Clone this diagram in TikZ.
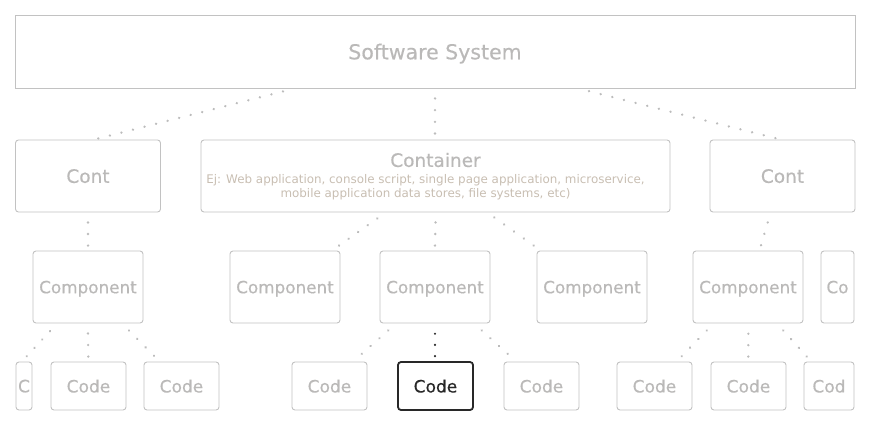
\documentclass[tikz,border=0pt]{standalone}
\usepackage{fontspec}
\setmainfont{DejaVu Sans}
\newfontfamily\labelfont{DejaVu Sans}[FakeBold=0.4]
\usetikzlibrary{calc,decorations.markings}
\definecolor{boxline}{RGB}{194,194,194}
\definecolor{boxtext}{RGB}{186,185,184}
\definecolor{subtext}{RGB}{200,190,178}
\definecolor{dotgray}{RGB}{188,188,188}
\definecolor{focus}{RGB}{40,40,40}
\tikzset{
  box/.style={draw=boxline, line width=0.9pt, rounded corners=3pt, inner sep=0pt,
    text depth=0pt, text=boxtext, font=\labelfont\fontsize{16.8}{18}\selectfont},
  topbox/.style={box, rounded corners=0pt, font=\labelfont\fontsize{20.5}{24}\selectfont},
  contbox/.style={box, minimum width=145pt, minimum height=72pt, font=\labelfont\fontsize{18.5}{22}\selectfont},
  compbox/.style={box, minimum width=110pt, minimum height=72pt},
  codebox/.style={box, minimum width=75pt, minimum height=48pt, font=\labelfont\fontsize{17}{20}\selectfont},
  focusbox/.style={codebox, draw=focus, line width=1.8pt, text=focus},
  % a row of round dots, evenly spread from the first point to the last
  dotrow/.style={decoration={markings,
      mark=between positions 0 and 1 step #1 with {\fill[dotgray] (0,0) circle (1.3pt);}}, decorate},
  focusrow/.style={decoration={markings,
      mark=between positions 0 and 1 step #1 with {\fill[focus] (0,0) circle (1.2pt);}}, decorate},
}
\begin{document}
\begin{tikzpicture}[x=1pt, y=-1pt]
  \useasboundingbox (0,0) rectangle (870,426);

  % top level
  \node[topbox, minimum width=840pt, minimum height=73pt] (sys) at (435,51.5) {Software System};

  % containers
  \node[contbox] (contL) at (88,176) {Cont};
  \node[contbox, minimum width=469pt] (cont) at (435.5,176) {};
  \node[text=boxtext, font=\labelfont\fontsize{18.5}{22}\selectfont, inner sep=0pt] (contTitle) at (435.5,160) {Container};
  \node[text=subtext, font=\fontsize{11.9}{14}\selectfont, align=center, inner sep=0pt] (contSub) at (425.5,187.5)
    {Ej: Web application, console script, single page application, microservice,\\mobile application data stores, file systems, etc)};
  \node[contbox] (contR) at (782.5,176) {Cont};

  % components
  \node[compbox] (compA) at (88,287) {Component};
  \node[compbox] (compB) at (285,287) {Component};
  \node[compbox] (compC) at (435,287) {Component};
  \node[compbox] (compD) at (592,287) {Component};
  \node[compbox] (compE) at (748,287) {Component};
  \node[compbox, minimum width=33pt] (compF) at (837.5,287) {Co};

  % code
  \node[codebox, minimum width=16pt] (codeA) at (24,386) {C};
  \node[codebox] (codeB) at (88.5,386) {Code};
  \node[codebox] (codeC) at (181.5,386) {Code};
  \node[codebox] (codeD) at (329.5,386) {Code};
  \node[focusbox] (codeE) at (435.5,386) {Code};
  \node[codebox] (codeF) at (541.5,386) {Code};
  \node[codebox] (codeG) at (654.5,386) {Code};
  \node[codebox] (codeH) at (748.5,386) {Code};
  \node[codebox, minimum width=50pt] (codeI) at (829,386) {Cod};

  % system to containers
  \path[dotrow=0.0624] ($(sys.south)+(-152,3)$) -- ($(contL.north)+(10,-1)$);
  \path[dotrow=0.333] ($(sys.south)+(0,10)$) -- ($(cont.north)+(-0.5,-6)$);
  \path[dotrow=0.0624] ($(sys.south)+(154,2.7)$) -- ($(contR.north)+(-6.8,-1.3)$);

  % containers to components
  \path[dotrow=0.4999] ($(contL.south)+(0,10)$) -- ($(compA.north)+(0,-5)$);
  \path[dotrow=0.2499] ($(cont.south)+(-58.2,6)$) -- ($(compB.north)+(54,-5)$);
  \path[dotrow=0.4999] ($(cont.south)+(0,10)$) -- ($(compC.north)+(0,-5)$);
  \path[dotrow=0.2499] ($(cont.south)+(58.8,5)$) -- ($(compD.north)+(-58.3,-5)$);
  \path[dotrow=0.4999] ($(contR.south)+(-14.8,10)$) -- ($(compE.north)+(13,-5.3)$);

  % components to code
  \path[dotrow=0.333] ($(compA.south)+(-38,7.7)$) -- ($(codeA.north)+(2.7,-5.3)$);
  \path[dotrow=0.4999] ($(compA.south)+(0,10)$) -- ($(codeB.north)+(-0.2,-5)$);
  \path[dotrow=0.333] ($(compA.south)+(41,7)$) -- ($(codeC.north)+(-27.5,-5.7)$);
  \path[dotrow=0.333] ($(compC.south)+(-46.7,7)$) -- ($(codeD.north)+(32.2,-7.7)$);
  \path[focusrow=0.4999] ($(compC.south)+(0,10.3)$) -- ($(codeE.north)+(-0.5,-5)$);
  \path[dotrow=0.333] ($(compC.south)+(46.7,7)$) -- ($(codeF.north)+(-33.8,-7.7)$);
  \path[dotrow=0.333] ($(compE.south)+(-41.3,7)$) -- ($(codeG.north)+(27.2,-5.3)$);
  \path[dotrow=0.4999] ($(compE.south)+(0.3,10.3)$) -- ($(codeH.north)+(-0.2,-5)$);
  \path[dotrow=0.333] ($(compE.south)+(35.3,7)$) -- ($(codeI.north)+(-22.3,-5)$);
\end{tikzpicture}
\end{document}
